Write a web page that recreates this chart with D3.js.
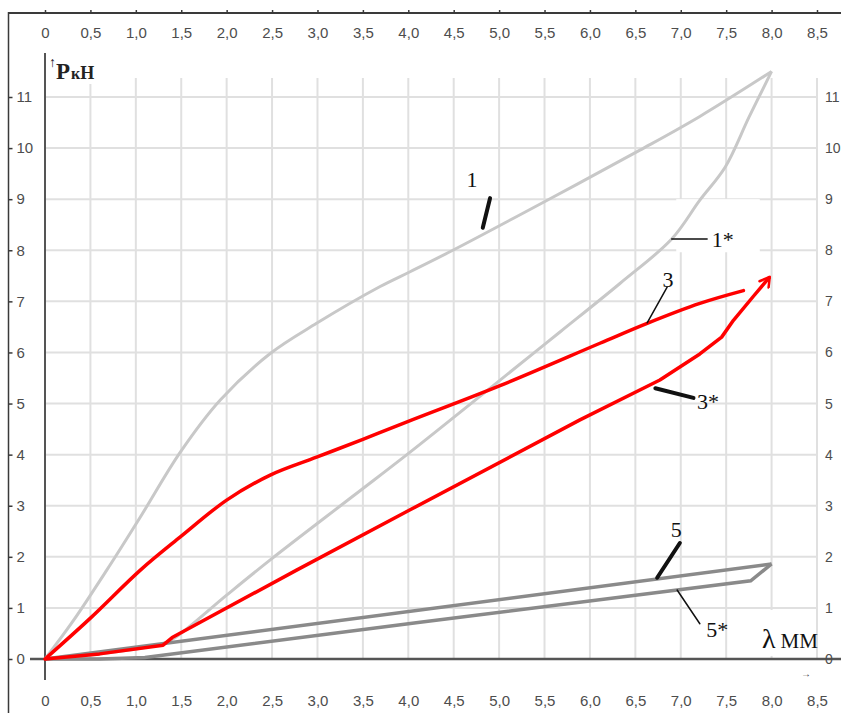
<!DOCTYPE html>
<html>
<head>
<meta charset="utf-8">
<script src="https://cdn.jsdelivr.net/npm/d3@7"></script>
<style>
  html, body { margin: 0; padding: 0; background: #fff; }
  svg { display: block; }
</style>
</head>
<body>
<svg id="chart" width="841" height="713"></svg>
<script>
// ---------- data ----------
const xTicks = [0, 0.5, 1.0, 1.5, 2.0, 2.5, 3.0, 3.5, 4.0, 4.5, 5.0, 5.5, 6.0, 6.5, 7.0, 7.5, 8.0, 8.5];
const yTicks = [0, 1, 2, 3, 4, 5, 6, 7, 8, 9, 10, 11];

// curve 1 (loading, light gray)
const curve1 = [[0,0],[0.3,0.72],[0.68,1.74],[1.05,2.78],[1.49,4.05],[1.93,5.07],[2.48,5.98],[2.99,6.57],[3.69,7.29],[4.02,7.58],[4.49,8.0],[5.53,8.98],[6.55,9.96],[7.21,10.62],[8.0,11.5]];
// curve 1* (unloading, light gray)
const curve1s = [[8.0,11.5],[7.75,10.6],[7.49,9.63],[7.21,8.98],[6.9,8.22],[6.33,7.35],[5.67,6.4],[4.97,5.4],[4.02,4.05],[3.4,3.2],[2.48,1.94],[2.0,1.25],[1.45,0.44],[1.3,0.3],[0.7,0.12],[0,0]];
// curve 3 (loading, red)
const curve3 = [[0,0],[0.5,0.8],[1.05,1.74],[1.49,2.39],[2.0,3.11],[2.48,3.6],[2.99,3.95],[3.5,4.3],[4.0,4.65],[5.01,5.35],[6.11,6.18],[6.63,6.57],[7.21,6.96],[7.69,7.21]];
// curve 3* (red, with arrow)
const curve3s = [[0,0],[0.6,0.1],[1.3,0.27],[1.4,0.42],[2.77,1.74],[4.02,2.92],[5.89,4.68],[6.77,5.46],[7.21,5.97],[7.45,6.3],[7.58,6.63],[7.8,7.1],[7.98,7.48]];
// curve 5 (dark gray)
const curve5 = [[0,0],[8.0,1.86]];
// curve 5* (dark gray)
const curve5s = [[8.0,1.86],[7.77,1.53],[4.13,0.72],[1.1,0.03],[0.6,0.0],[0,0]];

// curve labels and leader lines (data units)
const labelNames = ["1", "1*", "3", "3*", "5", "5*"];
const labelPos   = [[4.64,9.24],[7.34,8.06],[6.80,7.28],[7.18,4.89],[6.89,2.39],[7.28,0.43]];
const leaderFrom = [[4.90,9.02],[6.90,8.22],[6.85,7.28],[6.72,5.30],[6.99,2.27],[6.96,1.35]];
const leaderTo   = [[4.82,8.44],[7.29,8.22],[6.63,6.58],[7.14,5.11],[6.74,1.59],[7.21,0.69]];
const leaderW    = [4, 1.5, 1.5, 4, 4, 1.5];

// ---------- drawing ----------
const svg = d3.select("#chart");
const x = d3.scaleLinear().domain([0, 8.5]).range([45, 817]);
const y = d3.scaleLinear().domain([0, 11]).range([659, 97]);

const fmt = d => d === 0 ? "0" : d.toFixed(1).replace(".", ",");
const tickFont = "'Liberation Sans', Arial, sans-serif";
const tickColor = "#4d4d4d";

// grid
const grid = svg.append("g");
grid.selectAll(".gv").data(xTicks.filter(d => d > 0)).enter().append("line")
  .attr("x1", d => x(d)).attr("x2", d => x(d))
  .attr("y1", y(11.37)).attr("y2", y(0))
  .attr("stroke", "#e0e0e0").attr("stroke-width", 2);
grid.selectAll(".gh").data(yTicks.filter(d => d > 0)).enter().append("line")
  .attr("x1", x(0)).attr("x2", x(8.5))
  .attr("y1", d => y(d)).attr("y2", d => y(d))
  .attr("stroke", "#e0e0e0").attr("stroke-width", 2);

// white label backgrounds
svg.append("rect").attr("x", 47).attr("y", 48).attr("width", 66).attr("height", 36).attr("fill", "#fff");
svg.append("rect").attr("x", x(6.95)).attr("y", y(9.0)).attr("width", x(7.87) - x(6.95)).attr("height", y(8.0) - y(9.0) + 2).attr("fill", "#fff");
svg.append("rect").attr("x", x(7.82)).attr("y", y(0.96)).attr("width", x(8.4) - x(7.82)).attr("height", y(0.06) - y(0.96)).attr("fill", "#fff");

// frame lines
svg.append("line").attr("x1", 8).attr("x2", 841).attr("y1", 13).attr("y2", 13)
  .attr("stroke", "#3a3a3a").attr("stroke-width", 2);
svg.append("line").attr("x1", 8.5).attr("x2", 8.5).attr("y1", 12).attr("y2", 713)
  .attr("stroke", "#3a3a3a").attr("stroke-width", 1.5);
// main axes
svg.append("line").attr("x1", x(0)).attr("x2", x(0)).attr("y1", 53).attr("y2", 680)
  .attr("stroke", "#555").attr("stroke-width", 2);
svg.append("line").attr("x1", 30).attr("x2", 841).attr("y1", y(0)).attr("y2", y(0))
  .attr("stroke", "#555").attr("stroke-width", 2.5);

// top axis labels
const topAxis = svg.append("g").attr("transform", "translate(0,13)")
  .call(d3.axisBottom(x).tickValues(xTicks).tickFormat(fmt).tickSizeInner(-3).tickSizeOuter(0).tickPadding(14));
// bottom axis labels
const botAxis = svg.append("g").attr("transform", `translate(0,${y(0)})`)
  .call(d3.axisBottom(x).tickValues(xTicks).tickFormat(fmt).tickSize(0).tickPadding(36));
// left labels
const leftAxis = svg.append("g").attr("transform", "translate(8.5,0)")
  .call(d3.axisRight(y).tickValues(yTicks).tickFormat(d3.format("d")).tickSizeInner(4).tickSizeOuter(0).tickPadding(4));
// right labels
const rightAxis = svg.append("g").attr("transform", "translate(825,0)")
  .call(d3.axisRight(y).tickValues(yTicks).tickFormat(d3.format("d")).tickSize(0).tickPadding(0));

[topAxis, botAxis, leftAxis, rightAxis].forEach(g => {
  g.select(".domain").remove();
  g.selectAll(".tick line").attr("stroke", "#3a3a3a").attr("stroke-width", 1.5);
  g.selectAll("text").attr("font-family", tickFont).attr("font-size", 15).attr("fill", tickColor);
});
rightAxis.selectAll("text").attr("font-size", 14);

// curves
const lineSmooth = d3.line().x(d => x(d[0])).y(d => y(d[1])).curve(d3.curveCatmullRom.alpha(0.5));
const lineStraight = d3.line().x(d => x(d[0])).y(d => y(d[1]));

const defs = svg.append("defs");
defs.append("marker").attr("id", "arrowRed")
  .attr("viewBox", "-12 -7 14 14").attr("refX", 0).attr("refY", 0)
  .attr("markerWidth", 14).attr("markerHeight", 14)
  .attr("markerUnits", "userSpaceOnUse").attr("orient", "auto")
  .append("path").attr("d", "M-10,-5 L0,0 L-9,6")
  .attr("fill", "none").attr("stroke", "#ff0000").attr("stroke-width", 2.5)
  .attr("stroke-linejoin", "round").attr("stroke-linecap", "round");

svg.append("path").datum(curve1).attr("d", lineSmooth)
  .attr("fill", "none").attr("stroke", "#c8c8c8").attr("stroke-width", 3);
svg.append("path").datum(curve1s).attr("d", lineSmooth)
  .attr("fill", "none").attr("stroke", "#c8c8c8").attr("stroke-width", 3);

svg.append("path").datum(curve5).attr("d", lineStraight)
  .attr("fill", "none").attr("stroke", "#8a8a8a").attr("stroke-width", 3.5);
svg.append("path").datum(curve5s).attr("d", lineStraight)
  .attr("fill", "none").attr("stroke", "#8a8a8a").attr("stroke-width", 3.5)
  .attr("stroke-linejoin", "miter");

svg.append("path").datum(curve3).attr("d", lineSmooth)
  .attr("fill", "none").attr("stroke", "#ff0000").attr("stroke-width", 3.5)
  .attr("stroke-linecap", "round");
svg.append("path").datum(curve3s).attr("d", lineStraight)
  .attr("fill", "none").attr("stroke", "#ff0000").attr("stroke-width", 3.5)
  .attr("stroke-linejoin", "round").attr("marker-end", "url(#arrowRed)");

// leader lines
svg.selectAll(".leader").data(labelNames).enter().append("line")
  .attr("x1", (d, i) => x(leaderFrom[i][0])).attr("y1", (d, i) => y(leaderFrom[i][1]))
  .attr("x2", (d, i) => x(leaderTo[i][0])).attr("y2", (d, i) => y(leaderTo[i][1]))
  .attr("stroke", "#111").attr("stroke-width", (d, i) => leaderW[i]).attr("stroke-linecap", "round");

// curve labels
svg.selectAll(".clabel").data(labelNames).enter().append("text")
  .attr("x", (d, i) => x(labelPos[i][0])).attr("y", (d, i) => y(labelPos[i][1]))
  .attr("font-family", "'Liberation Serif', 'Times New Roman', serif")
  .attr("font-size", 22).attr("fill", "#111")
  .text(d => d);

// axis titles
const pT = svg.append("text").attr("x", 49).attr("y", 79)
  .attr("font-family", "'Liberation Serif', 'Times New Roman', serif").attr("fill", "#222")
  .attr("font-weight", "bold");
pT.append("tspan").attr("font-size", 14).attr("font-weight", "normal").attr("dy", -12).text("↑");
pT.append("tspan").attr("font-size", 23).attr("dy", 12).text("P");
pT.append("tspan").attr("font-size", 16).attr("dx", 1).text("к");
pT.append("tspan").attr("font-size", 18).text("Н");

const lT = svg.append("text").attr("x", 762).attr("y", 648)
  .attr("font-family", "'Liberation Serif', 'Times New Roman', serif").attr("fill", "#111");
lT.append("tspan").attr("font-size", 28).text("λ");
lT.append("tspan").attr("font-size", 21).attr("dx", 5).style("text-transform", "uppercase").text("мм");

svg.append("text").attr("x", 801).attr("y", 677)
  .attr("font-family", tickFont).attr("font-size", 10).attr("fill", "#444").text("→");
</script>
</body>
</html>
